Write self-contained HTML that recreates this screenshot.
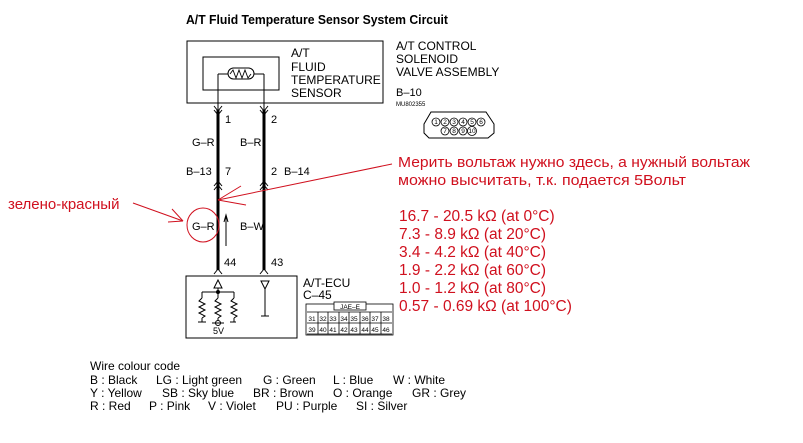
<!DOCTYPE html>
<html><head><meta charset="utf-8"><style>
html,body{margin:0;padding:0;background:#fff;}
svg{display:block;}
text{font-family:"Liberation Sans",sans-serif;}
</style></head><body>
<svg width="803" height="443" viewBox="0 0 803 443" xmlns="http://www.w3.org/2000/svg">
<text x="186" y="24" font-size="12.5" font-weight="bold" fill="#000" textLength="262" lengthAdjust="spacingAndGlyphs">A/T Fluid Temperature Sensor System Circuit</text>
<!-- solenoid box -->
<rect x="187" y="41" width="196" height="62" fill="none" stroke="#000" stroke-width="1"/>
<rect x="203" y="57" width="76" height="33" fill="none" stroke="#000" stroke-width="1"/>
<text font-size="12" fill="#000"><tspan x="291" y="57">A/T</tspan><tspan x="291" y="71">FLUID</tspan><tspan x="291" y="84">TEMPERATURE</tspan><tspan x="291" y="97">SENSOR</tspan></text>
<text font-size="12" fill="#000"><tspan x="396" y="50">A/T CONTROL</tspan><tspan x="396" y="63">SOLENOID</tspan><tspan x="396" y="76">VALVE ASSEMBLY</tspan></text>
<text x="396" y="96" font-size="11" fill="#000">B–10</text>
<text x="396" y="106" font-size="6" fill="#000">MU802355</text>
<!-- connector B-10 -->
<path d="M431,112 L486,112 L494,124 L494,133 L488,138 L429,138 L424,133 L424,124 Z" fill="none" stroke="#000"/>
<g font-size="6.5" fill="#000" text-anchor="middle">
<g fill="none" stroke="#000" stroke-width="0.8">
<circle cx="436" cy="122" r="4"/><circle cx="445" cy="122" r="4"/><circle cx="454" cy="122" r="4"/><circle cx="463" cy="122" r="4"/><circle cx="472" cy="122" r="4"/><circle cx="481" cy="122" r="4"/>
<circle cx="445" cy="131" r="4"/><circle cx="454" cy="131" r="4"/><circle cx="463" cy="131" r="4"/><circle cx="472" cy="131" r="4.5"/>
</g>
<text x="436" y="124">1</text><text x="445" y="124">2</text><text x="454" y="124">3</text><text x="463" y="124">4</text><text x="472" y="124">5</text><text x="481" y="124">6</text>
<text x="445" y="133">7</text><text x="454" y="133">8</text><text x="463" y="133">9</text><text x="472" y="133">10</text>
</g>
<!-- thermistor -->
<line x1="218" y1="74" x2="228" y2="74" stroke="#000"/>
<rect x="228" y="68" width="26" height="11" rx="5.5" fill="none" stroke="#000"/>
<polyline points="230,74 233,70 236,78 239,70 242,78 245,70 248,78 251,74" fill="none" stroke="#000" stroke-width="0.9"/>
<line x1="254" y1="74" x2="264" y2="74" stroke="#000"/>
<line x1="218" y1="74" x2="218" y2="110" stroke="#000"/>
<line x1="264" y1="74" x2="264" y2="110" stroke="#000"/>
<!-- wires -->
<line x1="218" y1="110" x2="218" y2="270" stroke="#000" stroke-width="3"/>
<line x1="264" y1="110" x2="264" y2="270" stroke="#000" stroke-width="3"/>
<g fill="none" stroke="#000" stroke-width="1">
<polyline points="214,106 218,111 222,106"/><polyline points="214,110 218,115 222,110"/>
<polyline points="260,106 264,111 268,106"/><polyline points="260,110 264,115 268,110"/>
<polyline points="214,186 218,181 222,186"/><polyline points="214,190 218,185 222,190"/>
<polyline points="260,186 264,181 268,186"/><polyline points="260,190 264,185 268,190"/>
<polyline points="214,274 218,269 222,274"/>
<polyline points="260,274 264,269 268,274"/>
<line x1="226" y1="246" x2="226" y2="216"/><polyline points="224,222 226,215 228,222"/>
</g>
<g font-size="11" fill="#000">
<text x="225" y="123">1</text><text x="271" y="123">2</text>
<text x="192" y="146">G–R</text><text x="240" y="146">B–R</text>
<text x="186" y="175">B–13</text><text x="225" y="175">7</text><text x="271" y="175">2</text><text x="284" y="175">B–14</text>
<text x="192" y="230">G–R</text><text x="240" y="230">B–W</text>
<text x="224" y="266">44</text><text x="271" y="266">43</text>
</g>
<!-- ECU box -->
<rect x="186" y="276" width="111" height="62" fill="none" stroke="#000"/>
<g fill="none" stroke="#000" stroke-width="1">
<path d="M214,288 L218,280 L222,288 Z"/>
<line x1="218" y1="288" x2="218" y2="292"/>
<line x1="202" y1="292" x2="234" y2="292"/>
<circle cx="218" cy="292" r="1.5" fill="#000"/>
<line x1="202" y1="292" x2="202" y2="298"/><polyline points="202,298 199,301 205,304 199,307 205,310 199,313 205,316 202,318"/><line x1="202" y1="318" x2="202" y2="322"/><line x1="198" y1="322" x2="206" y2="322"/>
<line x1="218" y1="292" x2="218" y2="298"/><polyline points="218,298 215,301 221,304 215,307 221,310 215,313 221,316 218,318"/><line x1="218" y1="318" x2="218" y2="321"/><circle cx="218" cy="323" r="2.5"/><line x1="212" y1="323" x2="224" y2="323"/>
<line x1="234" y1="292" x2="234" y2="298"/><polyline points="234,298 231,301 237,304 231,307 237,310 231,313 237,316 234,318"/><line x1="234" y1="318" x2="234" y2="322"/><line x1="230" y1="322" x2="236" y2="322"/>
<path d="M261,281 L265,289 L269,281 Z"/>
<line x1="265" y1="289" x2="265" y2="316"/><line x1="261" y1="316" x2="269" y2="316"/>
</g>
<text x="213" y="334" font-size="9" fill="#000">5V</text>
<text font-size="12" fill="#000"><tspan x="303" y="287">A/T-ECU</tspan><tspan x="303" y="299">C–45</tspan></text>
<!-- JAE connector -->
<g stroke="#000" fill="none" stroke-width="0.8">
<rect x="306" y="304" width="87" height="31"/>
<rect x="334" y="302" width="32" height="8" fill="#fff"/>
<line x1="307" y1="312" x2="392" y2="312"/><line x1="307" y1="323" x2="392" y2="323"/><line x1="307" y1="334" x2="392" y2="334"/>
<line x1="318" y1="312" x2="318" y2="334"/><line x1="328" y1="312" x2="328" y2="334"/><line x1="339" y1="312" x2="339" y2="334"/><line x1="349" y1="312" x2="349" y2="334"/><line x1="360" y1="312" x2="360" y2="334"/><line x1="370" y1="312" x2="370" y2="334"/><line x1="381" y1="312" x2="381" y2="334"/>
</g>
<g font-size="6.5" fill="#000" text-anchor="middle">
<text x="350" y="309">JAE–E</text>
<text x="312" y="321">31</text><text x="323" y="321">32</text><text x="333" y="321">33</text><text x="344" y="321">34</text><text x="354" y="321">35</text><text x="365" y="321">36</text><text x="375" y="321">37</text><text x="386" y="321">38</text>
<text x="312" y="332">39</text><text x="323" y="332">40</text><text x="333" y="332">41</text><text x="344" y="332">42</text><text x="354" y="332">43</text><text x="365" y="332">44</text><text x="375" y="332">45</text><text x="386" y="332">46</text>
</g>
<!-- red annotations -->
<g stroke="#d0101e" fill="none" stroke-width="1">
<line x1="392" y1="164" x2="218" y2="200"/>
<line x1="218" y1="200" x2="241" y2="186"/>
<line x1="218" y1="200" x2="246" y2="205"/>
<line x1="133" y1="203" x2="183" y2="221"/>
<line x1="183" y1="221" x2="172" y2="209"/>
<line x1="183" y1="221" x2="168" y2="222"/>
<ellipse cx="203" cy="225" rx="16" ry="17"/>
</g>
<g fill="#d0101e" font-size="15">
<text x="8" y="209">зелено-красный</text>
<text x="398" y="167" textLength="352" lengthAdjust="spacingAndGlyphs">Мерить вольтаж нужно здесь, а нужный вольтаж</text>
<text x="398" y="185" textLength="288" lengthAdjust="spacingAndGlyphs">можно высчитать, т.к. подается 5Вольт</text>
</g>
<g fill="#d0101e" font-size="15.5">
<text x="399" y="221">16.7 - 20.5 kΩ (at 0°C)</text>
<text x="399" y="239">7.3 - 8.9 kΩ (at 20°C)</text>
<text x="399" y="257">3.4 - 4.2 kΩ (at 40°C)</text>
<text x="399" y="275">1.9 - 2.2 kΩ (at 60°C)</text>
<text x="399" y="293">1.0 - 1.2 kΩ (at 80°C)</text>
<text x="399" y="311">0.57 - 0.69 kΩ (at 100°C)</text>
</g>
<!-- legend -->
<g font-size="12" fill="#000">
<text x="90" y="370">Wire colour code</text>
<text y="384"><tspan x="90">B : Black</tspan><tspan x="156">LG : Light green</tspan><tspan x="263">G : Green</tspan><tspan x="333">L : Blue</tspan><tspan x="393">W : White</tspan></text>
<text y="397"><tspan x="90">Y : Yellow</tspan><tspan x="162">SB : Sky blue</tspan><tspan x="253">BR : Brown</tspan><tspan x="333">O : Orange</tspan><tspan x="412">GR : Grey</tspan></text>
<text y="410"><tspan x="90">R : Red</tspan><tspan x="149">P : Pink</tspan><tspan x="208">V : Violet</tspan><tspan x="276">PU : Purple</tspan><tspan x="356">SI : Silver</tspan></text>
</g>
</svg>
</body></html>
